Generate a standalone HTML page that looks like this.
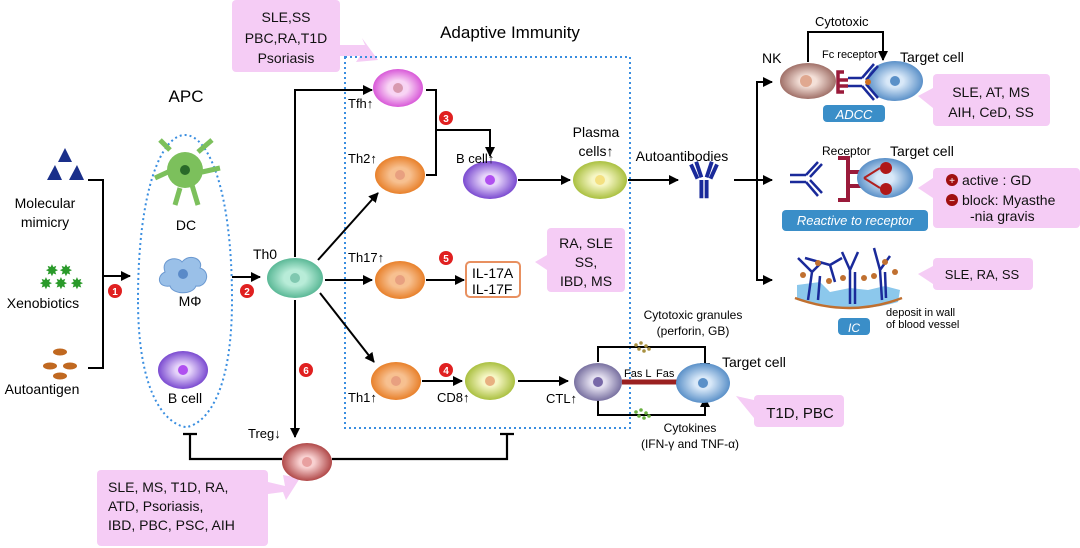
<!DOCTYPE html>
<html><head><meta charset="utf-8"><style>
html,body{margin:0;padding:0;background:#fff;}
svg{display:block;font-family:"Liberation Sans",Arial,sans-serif;}
</style></head><body>
<svg width="1080" height="548" viewBox="0 0 1080 548" xmlns="http://www.w3.org/2000/svg">
<defs>
<marker id="ar" viewBox="0 0 10 10" refX="9" refY="5" markerWidth="5" markerHeight="5" orient="auto"><path d="M0,0L10,5L0,10z" fill="#000"/></marker>
<radialGradient id="gPink" cx="0.5" cy="0.5" r="0.5"><stop offset="0.4" stop-color="#f8d4f4"/><stop offset="1" stop-color="#d858d8"/></radialGradient>
<radialGradient id="gOr" cx="0.5" cy="0.5" r="0.5"><stop offset="0.4" stop-color="#f7c090"/><stop offset="1" stop-color="#e8802a"/></radialGradient>
<radialGradient id="gGreen" cx="0.5" cy="0.5" r="0.5"><stop offset="0.4" stop-color="#b8ecd8"/><stop offset="1" stop-color="#5ab896"/></radialGradient>
<radialGradient id="gPur" cx="0.5" cy="0.5" r="0.5"><stop offset="0.3" stop-color="#e6d4fa"/><stop offset="1" stop-color="#7a4ad0"/></radialGradient>
<radialGradient id="gYel" cx="0.5" cy="0.5" r="0.5"><stop offset="0.3" stop-color="#f6f6c4"/><stop offset="1" stop-color="#aac040"/></radialGradient>
<radialGradient id="gGray" cx="0.5" cy="0.5" r="0.5"><stop offset="0.3" stop-color="#e4e0f0"/><stop offset="1" stop-color="#7870a0"/></radialGradient>
<radialGradient id="gBlue" cx="0.5" cy="0.5" r="0.5"><stop offset="0.3" stop-color="#d8e8f8"/><stop offset="1" stop-color="#5a90c8"/></radialGradient>
<radialGradient id="gBrown" cx="0.5" cy="0.5" r="0.5"><stop offset="0.3" stop-color="#f4e0d8"/><stop offset="1" stop-color="#a07068"/></radialGradient>
<radialGradient id="gRed" cx="0.5" cy="0.5" r="0.5"><stop offset="0.3" stop-color="#f8d0d0"/><stop offset="1" stop-color="#b04848"/></radialGradient>
<g id="ab" stroke="#1a2a9a" stroke-width="3" fill="none"><path d="M-6,-14L-2,-2M-10,-12L-5,-1M6,-14L2,-2M10,-12L5,-1M-2,0V14M2,0V14"/></g>
</defs>

<g fill="#f5ccf5">
<rect x="232" y="0" width="108" height="72" rx="4"/>
<path d="M340,45L365,45L362,38L378,60L356,62L360,56L340,56z"/>
<rect x="547" y="228" width="78" height="64" rx="4"/>
<path d="M547,255L535,262L547,270z"/>
<rect x="933" y="74" width="117" height="52" rx="4"/>
<path d="M933,88L918,96L933,108z"/>
<rect x="933" y="168" width="147" height="60" rx="4"/>
<path d="M933,178L918,188L933,198z"/>
<rect x="933" y="258" width="100" height="32" rx="4"/>
<path d="M933,266L918,274L933,284z"/>
<rect x="754" y="395" width="90" height="32" rx="4"/>
<path d="M754,400L736,396L754,418z"/>
<rect x="97" y="470" width="171" height="76" rx="4"/>
<path d="M268,482L285,486L283,475L300,478L286,500L283,492L268,494z"/>
</g>
<g font-size="14" text-anchor="middle" fill="#111">
<text x="286" y="22">SLE,SS</text><text x="286" y="43">PBC,RA,T1D</text><text x="286" y="63">Psoriasis</text>
<text x="586" y="248">RA, SLE</text><text x="586" y="267">SS,</text><text x="586" y="286">IBD, MS</text>
<text x="991" y="97">SLE,  AT,  MS</text><text x="991" y="117">AIH,  CeD,  SS</text>
<text x="982" y="279" font-size="13">SLE, RA, SS</text>
<text x="800" y="418" font-size="15">T1D, PBC</text>
</g>
<g font-size="14" fill="#111">
<text x="108" y="492">SLE, MS, T1D, RA,</text><text x="108" y="511">ATD, Psoriasis,</text><text x="108" y="530">IBD, PBC, PSC, AIH</text>
<text x="962" y="185">active : GD</text><text x="962" y="205">block: Myasthe</text><text x="970" y="221">-nia gravis</text>
</g>
<circle cx="952" cy="180" r="6" fill="#a01010"/><text x="952" y="184" font-size="10" fill="#fff" text-anchor="middle">+</text>
<circle cx="952" cy="200" r="6" fill="#a01010"/><text x="952" y="204" font-size="10" fill="#fff" text-anchor="middle">−</text>

<text x="510" y="38" font-size="17" text-anchor="middle">Adaptive Immunity</text>
<text x="186" y="102" font-size="17" text-anchor="middle">APC</text>

<rect x="345" y="57" width="285" height="371" fill="none" stroke="#3a8ee0" stroke-width="2" stroke-dasharray="2,3"/>
<path d="M138,300 C138,80 232,80 232,300 C232,420 190,427 186,427 C182,427 138,420 138,300z" fill="none" stroke="#3a8ee0" stroke-width="2" stroke-dasharray="2,3"/>

<g fill="#1a2f8a"><path d="M65,148L58,162L72,162z"/><path d="M55,165L47,180L62,180z"/><path d="M77,165L69,180L84,180z"/></g>
<g fill="#2a9a2a" font-size="16" text-anchor="middle"><text x="52" y="276">✸</text><text x="66" y="276">✸</text><text x="46" y="289">✸</text><text x="61" y="289">✸</text><text x="77" y="289">✸</text></g>
<g fill="#c06820"><ellipse cx="60" cy="352" rx="7" ry="3.5"/><ellipse cx="50" cy="366" rx="7" ry="3.5"/><ellipse cx="70" cy="366" rx="7" ry="3.5"/><ellipse cx="60" cy="376" rx="7" ry="3.5"/></g>
<g font-size="14" text-anchor="middle"><text x="45" y="208">Molecular</text><text x="45" y="227">mimicry</text><text x="43" y="308">Xenobiotics</text><text x="42" y="394">Autoantigen</text></g>
<path d="M88,180H103V368H88" fill="none" stroke="#000" stroke-width="2"/>
<line x1="103" y1="276" x2="130" y2="276" stroke="#000" stroke-width="2" marker-end="url(#ar)"/>

<g fill="#7cc05c"><circle cx="185" cy="170" r="18"/></g>
<path d="M170,150L160,140M198,152L212,140M202,172L220,168M180,188L175,205M192,185L198,205M168,172L155,178" stroke="#7cc05c" stroke-width="5"/>
<circle cx="185" cy="170" r="5" fill="#2a6a2a"/>
<text x="186" y="230" font-size="14" text-anchor="middle">DC</text>
<path d="M165,272 C160,258 178,256 182,262 C190,252 204,260 200,268 C212,272 206,288 196,286 C192,296 172,294 170,286 C158,288 156,276 165,272z" fill="#9ac0e8" stroke="#6a98d0"/>
<circle cx="183" cy="274" r="5" fill="#5a8ac8"/>
<text x="190" y="306" font-size="14" text-anchor="middle">MΦ</text>
<ellipse cx="183" cy="370" rx="25" ry="19" fill="url(#gPur)"/><circle cx="183" cy="370" r="5" fill="#b050f0"/>
<text x="185" y="403" font-size="14" text-anchor="middle">B cell</text>

<line x1="232" y1="277" x2="260" y2="277" stroke="#000" stroke-width="2" marker-end="url(#ar)"/>

<text x="265" y="259" font-size="14" text-anchor="middle">Th0</text>
<ellipse cx="295" cy="278" rx="28" ry="20" fill="url(#gGreen)"/><circle cx="295" cy="278" r="5" fill="#80c8b0"/>
<g stroke="#000" stroke-width="2" fill="none" marker-end="url(#ar)">
<path d="M295,257V90H372"/>
<path d="M318,260L378,193"/>
<path d="M325,280H372"/>
<path d="M320,293L374,362"/>
<path d="M295,300V437"/>
<path d="M426,280H464"/>
<path d="M422,381H462"/>
<path d="M436,130H490V156"/>
<path d="M518,180H570"/>
<path d="M628,180H678"/>
<path d="M518,381H568"/>
<path d="M734,180H772"/>
<path d="M757,180V82H772"/>
<path d="M757,180V280H772"/>
<path d="M808,62V32H883V60"/>
<path d="M598,362V347H705V372"/>
<path d="M598,400V415H705V398"/>
</g>
<path d="M426,90H436V175H426" fill="none" stroke="#000" stroke-width="2"/>
<path d="M282,459H190V434M183,434H197M332,459H507V434M500,434H514" fill="none" stroke="#000" stroke-width="2.2"/>

<ellipse cx="398" cy="88" rx="25" ry="19" fill="url(#gPink)"/><circle cx="398" cy="88" r="5" fill="#d89ab0"/>
<ellipse cx="400" cy="175" rx="25" ry="19" fill="url(#gOr)"/><circle cx="400" cy="175" r="5" fill="#e8a080"/>
<ellipse cx="400" cy="280" rx="25" ry="19" fill="url(#gOr)"/><circle cx="400" cy="280" r="5" fill="#e8a080"/>
<ellipse cx="396" cy="381" rx="25" ry="19" fill="url(#gOr)"/><circle cx="396" cy="381" r="5" fill="#e8a080"/>
<ellipse cx="490" cy="180" rx="27" ry="19" fill="url(#gPur)"/><circle cx="490" cy="180" r="5" fill="#b050f0"/>
<ellipse cx="600" cy="180" rx="27" ry="19" fill="url(#gYel)"/><circle cx="600" cy="180" r="5" fill="#f4e080"/>
<ellipse cx="490" cy="381" rx="25" ry="19" fill="url(#gYel)"/><circle cx="490" cy="381" r="5" fill="#e8b080"/>
<ellipse cx="598" cy="382" rx="24" ry="19" fill="url(#gGray)"/><circle cx="598" cy="382" r="5" fill="#7868a8"/>
<ellipse cx="307" cy="462" rx="25" ry="19" fill="url(#gRed)"/><circle cx="307" cy="462" r="5" fill="#e8a0a0"/>
<g font-size="13">
<text x="348" y="108">Tfh↑</text><text x="348" y="163">Th2↑</text><text x="348" y="262">Th17↑</text><text x="348" y="402">Th1↑</text>
<text x="456" y="163">B cell↑</text><text x="437" y="402">CD8↑</text><text x="546" y="403">CTL↑</text><text x="248" y="438">Treg↓</text>
</g>
<g font-size="14" text-anchor="middle"><text x="596" y="137">Plasma</text><text x="596" y="156">cells↑</text><text x="682" y="161">Autoantibodies</text></g>
<rect x="466" y="262" width="54" height="35" rx="4" fill="#fff" stroke="#e89060" stroke-width="2"/>
<text x="472" y="278" font-size="14">IL-17A</text><text x="472" y="294" font-size="14">IL-17F</text>

<g fill="#e02020"><circle cx="115" cy="291" r="7"/><circle cx="247" cy="291" r="7"/><circle cx="446" cy="118" r="7"/><circle cx="446" cy="370" r="7"/><circle cx="446" cy="258" r="7"/><circle cx="306" cy="370" r="7"/></g>
<g fill="#fff" font-size="10" font-weight="bold" text-anchor="middle"><text x="115" y="295">1</text><text x="247" y="295">2</text><text x="446" y="122">3</text><text x="446" y="374">4</text><text x="446" y="262">5</text><text x="306" y="374">6</text></g>

<use href="#ab" transform="translate(704,180) scale(1.3)"/>
<text x="762" y="63" font-size="14">NK</text>
<text x="822" y="58" font-size="11">Fc receptor</text>
<text x="815" y="26" font-size="13">Cytotoxic</text>
<text x="900" y="62" font-size="14">Target cell</text>
<ellipse cx="808" cy="81" rx="28" ry="18" fill="url(#gBrown)"/><circle cx="806" cy="81" r="6" fill="#e0a890"/>
<ellipse cx="895" cy="81" rx="28" ry="20" fill="url(#gBlue)"/><circle cx="895" cy="81" r="5" fill="#5a90c8"/>
<path d="M844,72H838V92H844M838,80H848M838,86H848" stroke="#9a1a3a" stroke-width="3.5" fill="none"/>
<path d="M848,78H862M848,86H862M862,78L874,64M866,80L878,66M862,86L874,100M866,84L878,98" stroke="#1a2a9a" stroke-width="2.5" fill="none"/>
<circle cx="868" cy="82" r="3" fill="#d07020"/>
<rect x="823" y="105" width="62" height="17" rx="4" fill="#3a8ec8"/>
<text x="854" y="119" font-size="13" font-style="italic" fill="#fff" text-anchor="middle">ADCC</text>
<text x="822" y="155" font-size="12">Receptor</text>
<text x="890" y="156" font-size="14">Target cell</text>
<path d="M790,175H806M790,182H806M806,175L818,162M810,177L822,164M806,182L818,196M810,180L822,193" stroke="#1a2a9a" stroke-width="2.5" fill="none"/>
<path d="M838,158H848V200H838M848,172H862M848,186H862" stroke="#9a1a3a" stroke-width="4" fill="none"/>
<ellipse cx="885" cy="178" rx="28" ry="20" fill="url(#gBlue)"/>
<path d="M864,178L880,168M864,178L880,188" stroke="#b02020" stroke-width="2"/>
<circle cx="886" cy="168" r="6" fill="#b01818"/><circle cx="886" cy="189" r="6" fill="#b01818"/>
<rect x="782" y="210" width="146" height="21" rx="4" fill="#3a8ec8"/>
<text x="855" y="225" font-size="13" font-style="italic" fill="#fff" text-anchor="middle">Reactive to receptor</text>
<path d="M797,285L820,282L830,292L850,288L868,290L885,286L900,290L898,302Q850,316 797,300z" fill="#8cc8ec"/>
<path d="M795,298Q850,318 902,298" stroke="#c07030" stroke-width="2.5" fill="none"/>
<g stroke="#1a2a9a" stroke-width="2.5" fill="none">
<path d="M808,300L812,272L798,258M812,272L822,262M818,300L820,276"/>
<path d="M850,304V270L842,252M850,270L858,252M855,304V272"/>
<path d="M882,300L880,270L874,248M880,270L890,256M886,298L885,272"/>
<path d="M805,258L830,265L842,258M830,265L835,282"/>
</g>
<g fill="#c07030"><circle cx="818" cy="263" r="3"/><circle cx="803" cy="275" r="3"/><circle cx="829" cy="281" r="3"/><circle cx="843" cy="278" r="3"/><circle cx="864" cy="278" r="3"/><circle cx="874" cy="276" r="3"/><circle cx="895" cy="272" r="3"/><circle cx="885" cy="262" r="3"/></g>
<rect x="838" y="318" width="32" height="17" rx="4" fill="#3a8ec8"/>
<text x="854" y="332" font-size="12" font-style="italic" fill="#fff" text-anchor="middle">IC</text>
<text x="886" y="316" font-size="11">deposit in wall</text><text x="886" y="328" font-size="11">of blood vessel</text>

<line x1="622" y1="382" x2="680" y2="382" stroke="#9a2020" stroke-width="5"/>
<text x="624" y="377" font-size="11">Fas L</text><text x="656" y="377" font-size="11">Fas</text>
<ellipse cx="703" cy="383" rx="27" ry="20" fill="url(#gBlue)"/><circle cx="703" cy="383" r="5" fill="#5a90c8"/>
<text x="722" y="367" font-size="14">Target cell</text>
<g fill="#a89040"><circle cx="636" cy="345" r="1.8"/><circle cx="641" cy="343" r="1.8"/><circle cx="646" cy="346" r="1.8"/><circle cx="639" cy="349" r="1.8"/><circle cx="644" cy="351" r="1.8"/><circle cx="649" cy="349" r="1.8"/></g>
<g fill="#6ab040"><circle cx="636" cy="412" r="1.8"/><circle cx="641" cy="410" r="1.8"/><circle cx="646" cy="413" r="1.8"/><circle cx="639" cy="416" r="1.8"/><circle cx="644" cy="418" r="1.8"/><circle cx="649" cy="416" r="1.8"/></g>
<g font-size="12" text-anchor="middle"><text x="693" y="319">Cytotoxic granules</text><text x="693" y="335">(perforin,  GB)</text><text x="690" y="432">Cytokines</text><text x="690" y="448">(IFN-γ and TNF-α)</text></g>
</svg>
</body></html>
